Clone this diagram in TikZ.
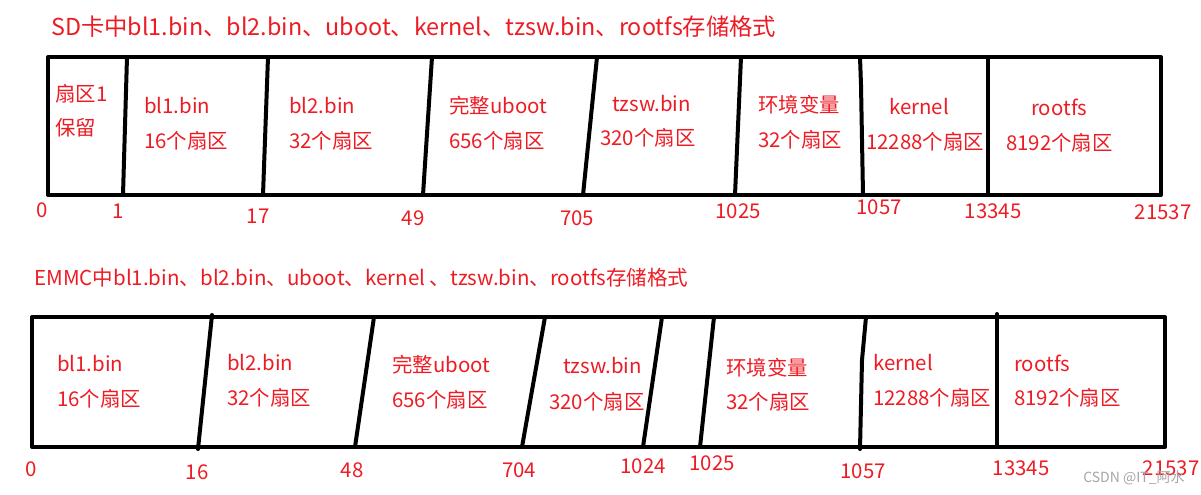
\documentclass[tikz,border=0pt]{standalone}
\usepackage{fontspec}
\setmainfont{Noto Sans CJK SC}
\definecolor{sdred}{RGB}{237,28,36}
\definecolor{wmgray}{RGB}{165,165,165}

\begin{document}
\begin{tikzpicture}[x=0.75pt,y=0.75pt,yscale=-1,xscale=1,
  lbl/.style={anchor=west,inner sep=0.75pt,color=sdred,font=\fontsize{15.3}{18}\selectfont,text height=1em,text depth=0.2em},
  num/.style={anchor=center,inner sep=0.75pt,color=sdred,font=\fontsize{15.3}{18}\selectfont,text height=1em,text depth=0.2em},
  bar/.style={line width=3pt,line cap=round,line join=round}]
\useasboundingbox (0,0) rectangle (1201,494); %diagram area 1201 x 494

% Text Node
\draw (50,30) node [lbl,font=\fontsize{17.5}{20}\selectfont] (sdTitle) {SD卡中bl1.bin、bl2.bin、uboot、kernel、tzsw.bin、rootfs存储格式};

%Shape: Rectangle
\draw [bar] (48,57) rectangle (1161,195);
%Straight Lines
\draw [bar] (127,57) -- (123,195);
\draw [bar] (268,57) -- (263,195);
\draw [bar] (432,57) -- (423,195);
\draw [bar] (597,57) -- (583,195);
\draw [bar] (741,57) -- (735,195);
\draw [bar] (860,57) -- (861,85) -- (863,195);
\draw [bar] (988,57) -- (988,195);

% Text Node
\draw (54,96) node [lbl] (sdSecA) {扇区1};
\draw (54,130) node [lbl] (sdSecB) {保留};
% Text Node
\draw (143,108) node [lbl] (sdBlA) {bl1.bin};
\draw (143,143) node [lbl] (sdBlAn) {16个扇区};
% Text Node
\draw (288,108) node [lbl] (sdBlB) {bl2.bin};
\draw (288,143) node [lbl] (sdBlBn) {32个扇区};
% Text Node
\draw (448,108) node [lbl] (sdUboot) {完整uboot};
\draw (448,143) node [lbl] (sdUbootn) {656个扇区};
% Text Node
\draw (611,106) node [lbl] (sdTzsw) {tzsw.bin};
\draw (599,140) node [lbl] (sdTzswn) {320个扇区};
% Text Node
\draw (757,107) node [lbl] (sdEnv) {环境变量};
\draw (757,142) node [lbl] (sdEnvn) {32个扇区};
% Text Node
\draw (888,109) node [lbl] (sdKernel) {kernel};
\draw (865,144) node [lbl] (sdKerneln) {12288个扇区};
% Text Node
\draw (1030,110) node [lbl] (sdRootfs) {rootfs};
\draw (1005,145) node [lbl] (sdRootfsn) {8192个扇区};

% Text Node
\draw (42,212) node [num] (sdN0) {0};
\draw (118,213) node [num] (sdN1) {1};
\draw (258,218) node [num] (sdN17) {17};
\draw (413,220) node [num] (sdN49) {49};
\draw (577,220) node [num] (sdN705) {705};
\draw (738,213) node [num] (sdN1025) {1025};
\draw (879,209) node [num] (sdN1057) {1057};
\draw (993,213) node [num] (sdN13345) {13345};
\draw (1163,214) node [num] (sdN21537) {21537};

% Text Node
\draw (33,280) node [lbl,font=\fontsize{15.4}{18}\selectfont] (emTitle) {EMMC中bl1.bin、bl2.bin、uboot、kernel 、tzsw.bin、rootfs存储格式};

%Shape: Rectangle
\draw [bar] (32,317) rectangle (1165,447);
%Straight Lines
\draw [bar] (212,315) -- (198,449);
\draw [bar] (374,317) -- (355,447);
\draw [bar] (545,317) -- (522,447);
\draw [bar] (662,317) -- (643,447);
\draw [bar] (714,317) -- (700,447);
\draw [bar] (866,317) -- (862,360) -- (860,449);
\draw [bar] (997,314) -- (997,447);

% Text Node
\draw (56,366) node [lbl] (emBlA) {bl1.bin};
\draw (56,401) node [lbl] (emBlAn) {16个扇区};
% Text Node
\draw (226,365) node [lbl] (emBlB) {bl2.bin};
\draw (226,400) node [lbl] (emBlBn) {32个扇区};
% Text Node
\draw (391,367) node [lbl] (emUboot) {完整uboot};
\draw (391,402) node [lbl] (emUbootn) {656个扇区};
% Text Node
\draw (562,368) node [lbl] (emTzsw) {tzsw.bin};
\draw (548,404) node [lbl] (emTzswn) {320个扇区};
% Text Node
\draw (725,370) node [lbl] (emEnv) {环境变量};
\draw (725,404) node [lbl] (emEnvn) {32个扇区};
% Text Node
\draw (872,365) node [lbl] (emKernel) {kernel};
\draw (872,400) node [lbl] (emKerneln) {12288个扇区};
% Text Node
\draw (1013,366) node [lbl] (emRootfs) {rootfs};
\draw (1013,400) node [lbl] (emRootfsn) {8192个扇区};

% Text Node
\draw (31,471) node [num] (emN0) {0};
\draw (197,474) node [num] (emN16) {16};
\draw (352,472) node [num] (emN48) {48};
\draw (519,472) node [num] (emN704) {704};
\draw (643,468) node [num] (emN1024) {1024};
\draw (712,465) node [num] (emN1025) {1025};
\draw (863,473) node [num] (emN1057) {1057};
\draw (1021,470) node [num] (emN13345) {13345};
\draw (1171,470) node [num] (emN21537) {21537};

% Text Node
\draw (1082,478) node [anchor=west,inner sep=0.75pt,color=wmgray,font=\fontsize{10.5}{12}\selectfont] (wmark) {CSDN @IT\_阿水};

\end{tikzpicture}
\end{document}
